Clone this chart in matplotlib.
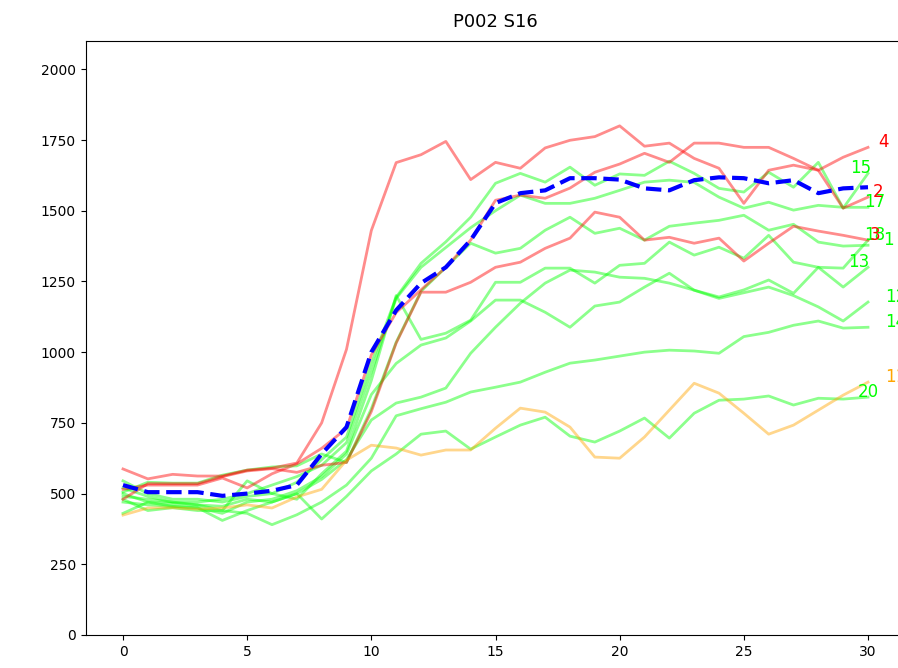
import numpy as np
import matplotlib.pyplot as plt

x = np.arange(31)

# series values
s2 = [587, 552, 568, 562, 562, 583, 590, 608, 750, 1010, 1430, 1670, 1698, 1745, 1610, 1671,
      1650, 1722, 1749, 1762, 1800, 1728, 1739, 1685, 1650, 1526, 1643, 1661, 1643, 1509, 1548]
s4 = [515, 530, 530, 530, 555, 520, 570, 605, 660, 730, 990, 1140, 1220, 1300, 1396, 1537,
      1555, 1544, 1580, 1636, 1665, 1703, 1671, 1739, 1739, 1724, 1724, 1685, 1643, 1689, 1724]
s3 = [480, 535, 535, 535, 560, 580, 588, 575, 600, 610, 790, 1032, 1212, 1212, 1247, 1300,
      1318, 1367, 1403, 1495, 1477, 1396, 1406, 1385, 1403, 1322, 1385, 1445, 1428, 1413, 1396]
s15 = [545, 500, 480, 480, 470, 490, 500, 540, 620, 700, 960, 1194, 1314, 1390, 1477, 1597,
       1632, 1601, 1654, 1590, 1630, 1625, 1675, 1632, 1579, 1566, 1636, 1583, 1671, 1509, 1632]
s17 = [520, 490, 470, 470, 480, 500, 530, 560, 600, 680, 930, 1190, 1300, 1370, 1440, 1500,
       1555, 1526, 1526, 1544, 1572, 1601, 1608, 1600, 1548, 1509, 1530, 1502, 1519, 1512, 1512]
s1 = [505, 540, 537, 537, 565, 583, 594, 598, 640, 610, 800, 1035, 1215, 1300, 1385, 1350,
      1367, 1431, 1477, 1420, 1438, 1396, 1445, 1456, 1466, 1484, 1431, 1452, 1389, 1375, 1378]
s18 = [490, 480, 470, 460, 440, 545, 500, 480, 570, 650, 900, 1200, 1045, 1067, 1113, 1247,
       1247, 1297, 1297, 1244, 1307, 1314, 1389, 1343, 1371, 1332, 1413, 1318, 1300, 1297, 1396]
s13 = [470, 460, 455, 450, 430, 470, 480, 510, 560, 640, 850, 960, 1025, 1050, 1110, 1184,
       1184, 1141, 1088, 1163, 1177, 1230, 1279, 1219, 1195, 1220, 1255, 1208, 1300, 1230, 1300]
s12 = [500, 470, 465, 460, 455, 480, 470, 500, 550, 620, 760, 820, 841, 873, 996, 1088,
       1173, 1244, 1290, 1283, 1265, 1261, 1244, 1219, 1190, 1210, 1230, 1200, 1160, 1110, 1177]
s14 = [480, 440, 450, 440, 440, 430, 390, 425, 470, 530, 625, 775, 800, 823, 859, 876,
       894, 929, 961, 972, 986, 1000, 1007, 1004, 996, 1055, 1070, 1095, 1110, 1085, 1088]
s20 = [430, 470, 455, 450, 405, 440, 470, 500, 410, 490, 580, 640, 710, 721, 657, 700,
       742, 770, 703, 682, 721, 767, 696, 784, 830, 834, 845, 813, 837, 834, 841]
s11 = [424, 449, 450, 445, 449, 460, 449, 488, 515, 618, 671, 661, 636, 654, 654, 731,
       802, 788, 735, 629, 625, 700, 795, 890, 855, 784, 710, 742, 795, 848, 894]
avg = [530, 505, 505, 505, 492, 500, 510, 530, 640, 735, 1000, 1148, 1244, 1300, 1396, 1527,
       1562, 1572, 1615, 1615, 1610, 1579, 1572, 1608, 1618, 1615, 1597, 1608, 1562, 1579, 1583]

names = ['15', '17', '1', '18', '13', '12', '14', '20', '2', '4', '3', '11']
series = [s15, s17, s1, s18, s13, s12, s14, s20, s2, s4, s3, s11]
colors = ['lime'] * 8 + ['red'] * 3 + ['orange']
label_dx = [-0.7, -0.15, 0.6, -0.15, -0.8, 0.7, 0.7, -0.4, 0.2, 0.4, 0.05, 0.7]

fig = plt.figure(figsize=(8.98, 6.68), dpi=100)
ax = fig.add_axes([85.75 / 898, 33 / 668, 819.5 / 898, 594 / 668])

for name, ys, c, dx in zip(names, series, colors, label_dx):
    ax.plot(x, ys, color=c, alpha=0.45, lw=2)
    ax.text(x[-1] + dx, ys[-1], name, color=c, fontsize=12)

ax.plot(x, avg, color='blue', lw=3, ls='--')

ax.set_xlim(-1.5, 31.5)
ax.set_ylim(0, 2100)
ax.set_title('P002 S16', fontsize=13, pad=10)

fig.savefig('out.png', dpi=100)
